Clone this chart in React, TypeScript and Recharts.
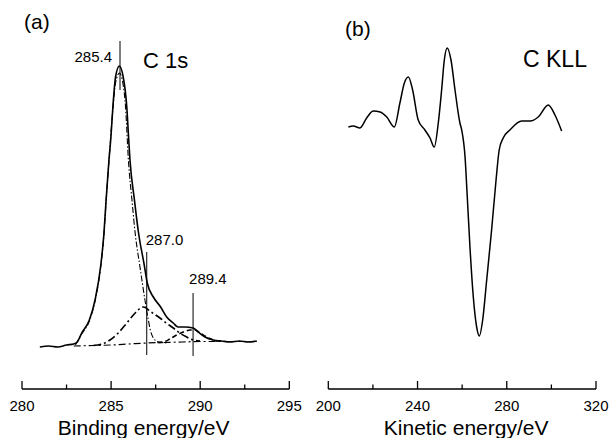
import { LineChart, Line, XAxis, YAxis, ReferenceLine } from 'recharts'

// (a) C 1s spectrum: binding energy (eV) vs counts (arb.)
const c1sEnergy = [281.0, 281.5, 282.0, 282.5, 282.9, 283.1, 283.35, 283.78, 284.1, 284.43, 284.6, 284.72, 284.88, 284.99, 285.1, 285.25, 285.46, 285.68, 285.88, 285.98, 286.06, 286.31, 286.54, 286.85, 287.03, 287.37, 287.78, 288.12, 288.49, 288.75, 289.15, 289.6, 289.89, 290.27, 290.74, 291.2, 291.67, 292.2, 292.7, 293.17]
const c1sTotal = [42, 43, 42, 44, 45, 47, 56, 69, 89, 125, 156, 189, 229, 252, 282, 312, 323, 312, 282, 252, 229, 189, 156, 125, 106, 92, 82, 72, 66, 62, 62, 61, 57, 52, 49, 48, 47, 48, 47, 48]

const ccEnergy = [283.0, 283.35, 283.78, 284.1, 284.43, 284.6, 284.72, 284.88, 285.1, 285.25, 285.47, 285.66, 285.81, 285.97, 286.17, 286.35, 286.62, 286.9, 287.09, 287.2, 287.37, 287.65, 288.2]
const ccCounts = [44, 55, 68, 88, 124, 155, 188, 228, 280, 306, 316, 306, 282, 229, 189, 156, 122, 89, 69, 59, 51, 47, 46]

const coEnergy = [284.0, 284.5, 284.94, 285.4, 285.88, 286.3, 286.81, 287.25, 287.74, 288.1, 288.49, 288.85, 289.24, 289.6, 289.99]
const coCounts = [43.5, 45, 49, 56, 66, 75, 82, 77, 71, 66, 61, 56, 52, 49, 48]

const cooEnergy = [287.6, 287.93, 288.3, 288.68, 289.05, 289.43, 289.71, 290.0, 290.36, 290.6, 290.93, 291.3]
const cooCounts = [46.5, 47, 50, 54, 57, 59, 59, 56, 52, 50, 48, 48]

const bgEnergy = [282.9, 284.0, 285.0, 286.0, 287.0, 288.0, 289.0, 290.0, 291.0, 292.0, 293.17]
const bgCounts = [43, 43.5, 44, 45, 46, 46.5, 47, 47.5, 47.5, 47.5, 47.5]

const peakPositions = [285.5, 287.0, 289.6]
const peakLabels = ['285.4', '287.0', '289.4']
const peakTop = [348, 137, 96]
const peakBottom = [299, 34, 33]

// (b) C KLL differentiated Auger spectrum
const kllEnergy = [209.0, 211.2, 214.2, 217.2, 220.2, 223.2, 226.2, 229.6, 232.1, 234.1, 235.9, 237.8, 240.3, 243.3, 245.6, 247.5, 249.3, 250.8, 252.0, 253.3, 255.0, 256.8, 259.0, 259.8, 261.3, 262.3, 263.5, 265.0, 266.5, 267.7, 269.2, 271.0, 273.2, 275.2, 276.6, 278.4, 281.4, 286.7, 290.5, 294.1, 298.6, 301.6, 304.6]
const kllSignal = [262, 263, 261, 271, 278, 277, 272, 262, 286, 306, 312, 299, 269, 259, 251, 242, 266, 299, 329, 341, 329, 299, 266, 259, 232, 192, 142, 92, 62, 53, 69, 109, 159, 209, 239, 251, 259, 268, 268, 272, 284, 274, 258]

const bindingTicks = [280, 282.5, 285, 287.5, 290, 292.5, 295]
const bindingLabels = [280, 285, 290, 295]
const kineticTicks = [200, 220, 240, 260, 280, 300, 320]
const kineticLabels = [200, 240, 280, 320]

const zip = (xs: number[], ys: number[]) => xs.map((x, i) => ({ x, y: ys[i] }))

const FONT = '"Liberation Sans", Arial, Helvetica, sans-serif'

function AxisTick({ x, y, payload, labels }: any) {
  const major = labels.includes(payload.value)
  return (
    <g>
      <line x1={x} x2={x} y1={y} y2={y - (major ? 8 : 4.5)} stroke="#000" strokeWidth={1.3} />
      {major && (
        <text x={x} y={y + 22} textAnchor="middle" fontSize={15} fill="#000">
          {payload.value}
        </text>
      )}
    </g>
  )
}

function AxisTitle({ viewBox, text, shift }: any) {
  return (
    <text x={viewBox.x + viewBox.width / 2 + shift} y={viewBox.y + viewBox.height - 3} textAnchor="middle" fontSize={21} fill="#000">
      {text}
    </text>
  )
}

const peakLabelPlacement = [
  { dx: -8, dy: 21, anchor: 'end' },
  { dx: -1, dy: -7, anchor: 'start' },
  { dx: -4, dy: -9, anchor: 'start' },
]

function C1sPanel() {
  return (
    <LineChart width={305} height={438} margin={{ top: 39, right: 15.7, bottom: 0, left: 22 }}>
      <XAxis
        dataKey="x"
        type="number"
        domain={[280, 295]}
        ticks={bindingTicks}
        interval={0}
        tickSize={0}
        tickMargin={0}
        height={49}
        axisLine={{ stroke: '#000', strokeWidth: 1.3 }}
        tick={(p: any) => <AxisTick {...p} labels={bindingLabels} />}
        label={(p: any) => <AxisTitle {...p} text="Binding energy/eV" shift={-12} />}
      />
      <YAxis hide width={0} type="number" domain={[0, 350]} />
      <Line data={zip(bgEnergy, bgCounts)} dataKey="y" type="monotone" dot={false} stroke="#000" strokeWidth={1.2} strokeDasharray="7 3 2 3" isAnimationActive={false} />
      <Line data={zip(ccEnergy, ccCounts)} dataKey="y" type="monotone" dot={false} stroke="#000" strokeWidth={1.1} strokeDasharray="6 2 1.5 2" isAnimationActive={false} />
      <Line data={zip(coEnergy, coCounts)} dataKey="y" type="monotone" dot={false} stroke="#000" strokeWidth={1.6} strokeDasharray="8 3 2 3" isAnimationActive={false} />
      <Line data={zip(cooEnergy, cooCounts)} dataKey="y" type="monotone" dot={false} stroke="#000" strokeWidth={1.6} strokeDasharray="5 3" isAnimationActive={false} />
      <Line data={zip(c1sEnergy, c1sTotal)} dataKey="y" type="monotone" dot={false} stroke="#000" strokeWidth={1.6} isAnimationActive={false} />
      {peakPositions.map((pos, i) => (
        <ReferenceLine
          key={i}
          segment={[{ x: pos, y: peakTop[i] }, { x: pos, y: peakBottom[i] }]}
          stroke="#000"
          strokeWidth={1}
          label={(p: any) => (
            <text
              x={p.viewBox.x + peakLabelPlacement[i].dx}
              y={p.viewBox.y + peakLabelPlacement[i].dy}
              textAnchor={peakLabelPlacement[i].anchor}
              fontSize={15}
              fill="#000"
            >
              {peakLabels[i]}
            </text>
          )}
        />
      ))}
    </LineChart>
  )
}

function KllPanel() {
  return (
    <LineChart width={306} height={438} margin={{ top: 39, right: 15, bottom: 0, left: 23.3 }}>
      <XAxis
        dataKey="x"
        type="number"
        domain={[200, 320]}
        ticks={kineticTicks}
        interval={0}
        tickSize={0}
        tickMargin={0}
        height={49}
        axisLine={{ stroke: '#000', strokeWidth: 1.3 }}
        tick={(p: any) => <AxisTick {...p} labels={kineticLabels} />}
        label={(p: any) => <AxisTitle {...p} text="Kinetic energy/eV" shift={4} />}
      />
      <YAxis hide width={0} type="number" domain={[0, 350]} />
      <Line data={zip(kllEnergy, kllSignal)} dataKey="y" type="monotone" dot={false} stroke="#000" strokeWidth={1.5} isAnimationActive={false} />
    </LineChart>
  )
}

export default function App() {
  return (
    <div style={{ position: 'absolute', left: 0, top: 0, width: 611, height: 438, background: '#fff', fontFamily: FONT }}>
      <div style={{ position: 'absolute', left: 0, top: 0 }}>
        <C1sPanel />
      </div>
      <div style={{ position: 'absolute', left: 305, top: 0 }}>
        <KllPanel />
      </div>
      <svg width={611} height={438} style={{ position: 'absolute', left: 0, top: 0, pointerEvents: 'none' }}>
        <text x={24} y={29} fontSize={21} fill="#000">(a)</text>
        <text x={143} y={68} fontSize={22} fill="#000">C 1s</text>
        <text x={345} y={36} fontSize={21} fill="#000">(b)</text>
        <text x={523} y={67} fontSize={23} fill="#000">C KLL</text>
      </svg>
    </div>
  )
}
